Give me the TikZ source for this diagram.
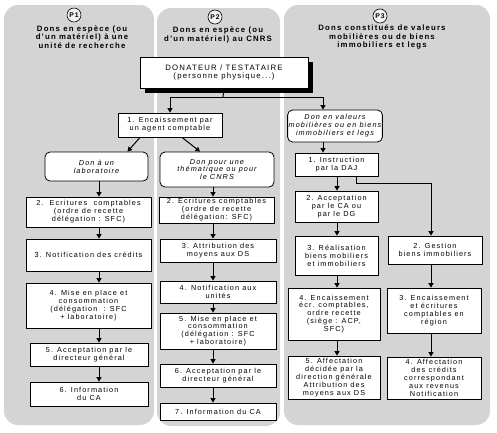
\documentclass[tikz,border=0pt]{standalone}
\usepackage{fontspec}
\setmainfont[LetterSpace=15]{Liberation Sans}
\usetikzlibrary{arrows.meta,positioning,shadows}
\definecolor{panelgray}{RGB}{212,212,212}

\begin{document}
\begin{tikzpicture}[
    x = 1pt, y = -1pt, % one unit = one pixel of the scan, y downwards
    > = {Triangle[length=4.5pt,width=5pt]}, % arrow head style
    line width = 1pt, % connector style
    font = \fontsize{7.3}{7.9}\selectfont
    ]

    \tikzset{
    panel/.style = {fill=panelgray, rounded corners=14pt},
    boxdim/.style 2 args = {minimum width=#1pt, minimum height=#2pt},
    etape/.style = {draw=black, fill=white, line width=0.8pt, align=center, inner sep=1pt},
    don/.style = {etape, rounded corners=5pt, font=\fontsize{7.3}{7.9}\selectfont\itshape},
    plabel/.style = {circle, draw=black, fill=gray!10, line width=0.6pt, inner sep=1.3pt,
        font=\fontsize{6.8}{7}\selectfont\bfseries},
    titre/.style = {align=center, font=\fontsize{7.8}{8.5}\selectfont\bfseries}
    }

    \useasboundingbox (0,0) rectangle (497,432);

    % the three columns
    \fill[panel] (4,5) rectangle (154,425);
    \fill[panel] (157,8) rectangle (280,426);
    \fill[panel] (284,5) rectangle (490,425);

    \node[plabel] (lp1) at (74,15) {P1};
    \node[plabel] (lp2) at (215,17) {P2};
    \node[plabel] (lp3) at (380,16) {P3};
    \node[titre] (t1) at (82,37) {Dons en espèce (ou\\d'un matériel) à une\\unité de recherche};
    \node[titre] (t2) at (218,35) {Dons en espèce (ou\\d'un matériel) au CNRS};
    \node[titre] (t3) at (382,37) {Dons constitués de valeurs\\mobilières ou de biens\\immobiliers et legs};

    % top
    \node[etape, boxdim={168}{31},
        drop shadow={shadow xshift=5pt, shadow yshift=-5pt, fill=black, opacity=1},
        font=\fontsize{7.8}{8.8}\selectfont] (donor) at (224,72.5)
        {DONATEUR / TESTATAIRE\\(personne physique...)};
    \node[etape, boxdim={104}{24}] (enc) at (170,125) {1. Encaissement par\\un agent comptable};
    \coordinate (split) at (223,97);

    % P1
    \node[don, boxdim={103}{29}] (lab) at (96.5,166.5) {Don à un\\laboratoire};
    \node[etape, boxdim={125}{30}] (p1s2) at (88.5,212) {2.~~Ecritures~~comptables\\(ordre de recette\\délégation : SFC)};
    \node[etape, boxdim={125}{32}] (p1s3) at (88.5,255) {3. Notification des crédits};
    \node[etape, boxdim={125}{45}] (p1s4) at (88.5,305.5) {4. Mise en place et\\consommation\\(délégation~~: SFC\\+ laboratoire)};
    \node[etape, boxdim={118}{23}] (p1s5) at (89,354.5) {5. Acceptation par le\\directeur général};
    \node[etape, boxdim={118}{24}] (p1s6) at (89,394) {6. Information\\du CA};
    \coordinate (ax1) at (99,0);

    % P2
    \node[don, boxdim={114}{35}] (them) at (217,169.5) {Don pour une\\thématique ou pour\\le CNRS};
    \node[etape, boxdim={115}{26}] (p2s2) at (216.5,210) {2. Ecritures comptables\\(ordre de recette\\délégation: SFC)};
    \node[etape, boxdim={116}{23}] (p2s3) at (218,250.5) {3. Attribution des\\moyens aux DS};
    \node[etape, boxdim={116}{22}] (p2s4) at (218,292) {4. Notification aux\\unités};
    \node[etape, boxdim={116}{36}] (p2s5) at (218,331) {5. Mise en place et\\consommation\\(délégation : SFC\\+ laboratoire)};
    \node[etape, boxdim={116}{23}] (p2s6) at (218,375.5) {6. Acceptation par le\\directeur général};
    \node[etape, boxdim={116}{17}] (p2s7) at (218,411.5) {7. Information du CA};
    \coordinate (ax2) at (213,0);

    % P3
    \node[don, boxdim={94}{32}] (dval) at (335,126) {Don en valeurs\\mobilières ou en biens\\immobiliers et legs};
    \node[etape, boxdim={83}{23}] (q1) at (336.5,164.5) {1. Instruction\\par la DAJ};
    \node[etape, boxdim={83}{31}] (q2) at (336.5,206.5) {2. Acceptation\\par le CA ou\\par le DG};
    \node[etape, boxdim={83}{39}] (q3) at (336.5,255.5) {3. Réalisation\\biens mobiliers\\et immobiliers};
    \node[etape, boxdim={92}{52}] (q4) at (334,314) {4. Encaissement\\écr. comptables,\\ordre recette\\(siège : ACP,\\SFC)};
    \node[etape, boxdim={92}{43}] (q5) at (334,377.5) {5. Affectation\\décidée par la\\direction générale\\Attribution des\\moyens aux DS};
    \node[etape, boxdim={94}{28}] (g2) at (435,250) {2. Gestion\\biens immobiliers};
    \node[etape, boxdim={94}{45}] (g3) at (434,310.5) {3. Encaissement\\et écritures\\comptables en\\région};
    \node[etape, boxdim={94}{42}] (g4) at (434,378) {4. Affectation\\des crédits\\correspondant\\aux revenus\\Notification};
    \coordinate (ax3) at (323,0);
    \coordinate (ax4) at (337,0);
    \coordinate (ax5) at (431,0);

    % connectors
    \draw (donor.south) -- (split);
    \draw[->] (split) -| (enc.north);
    \draw[->] (split) -| (dval.north -| ax3);
    \path[->] ([xshift=-30pt]enc.south) edge ([xshift=31pt]lab.north)
              ([xshift=12pt]enc.south) edge ([xshift=-17pt]them.north);
    \foreach \a/\b in {lab/p1s2, p1s2/p1s3, p1s3/p1s4, p1s4/p1s5, p1s5/p1s6}
        \draw[->] (\a.south -| ax1) -- (\b.north -| ax1);
    \foreach \a/\b in {them/p2s2, p2s2/p2s3, p2s3/p2s4, p2s4/p2s5, p2s5/p2s6, p2s6/p2s7}
        \draw[->] (\a.south -| ax2) -- (\b.north -| ax2);
    \draw[->] (dval.south -| ax3) -- (q1.north -| ax3);
    \foreach \a/\b in {q1/q2, q2/q3, q3/q4, q4/q5}
        \draw[->] (\a.south -| ax4) -- (\b.north -| ax4);
    \draw[->] ([xshift=20pt]q1.south) -- ++(0,7) -| (g2.north -| ax5);
    \foreach \a/\b in {g2/g3, g3/g4}
        \draw[->] (\a.south -| ax5) -- (\b.north -| ax5);
\end{tikzpicture}
\end{document}
